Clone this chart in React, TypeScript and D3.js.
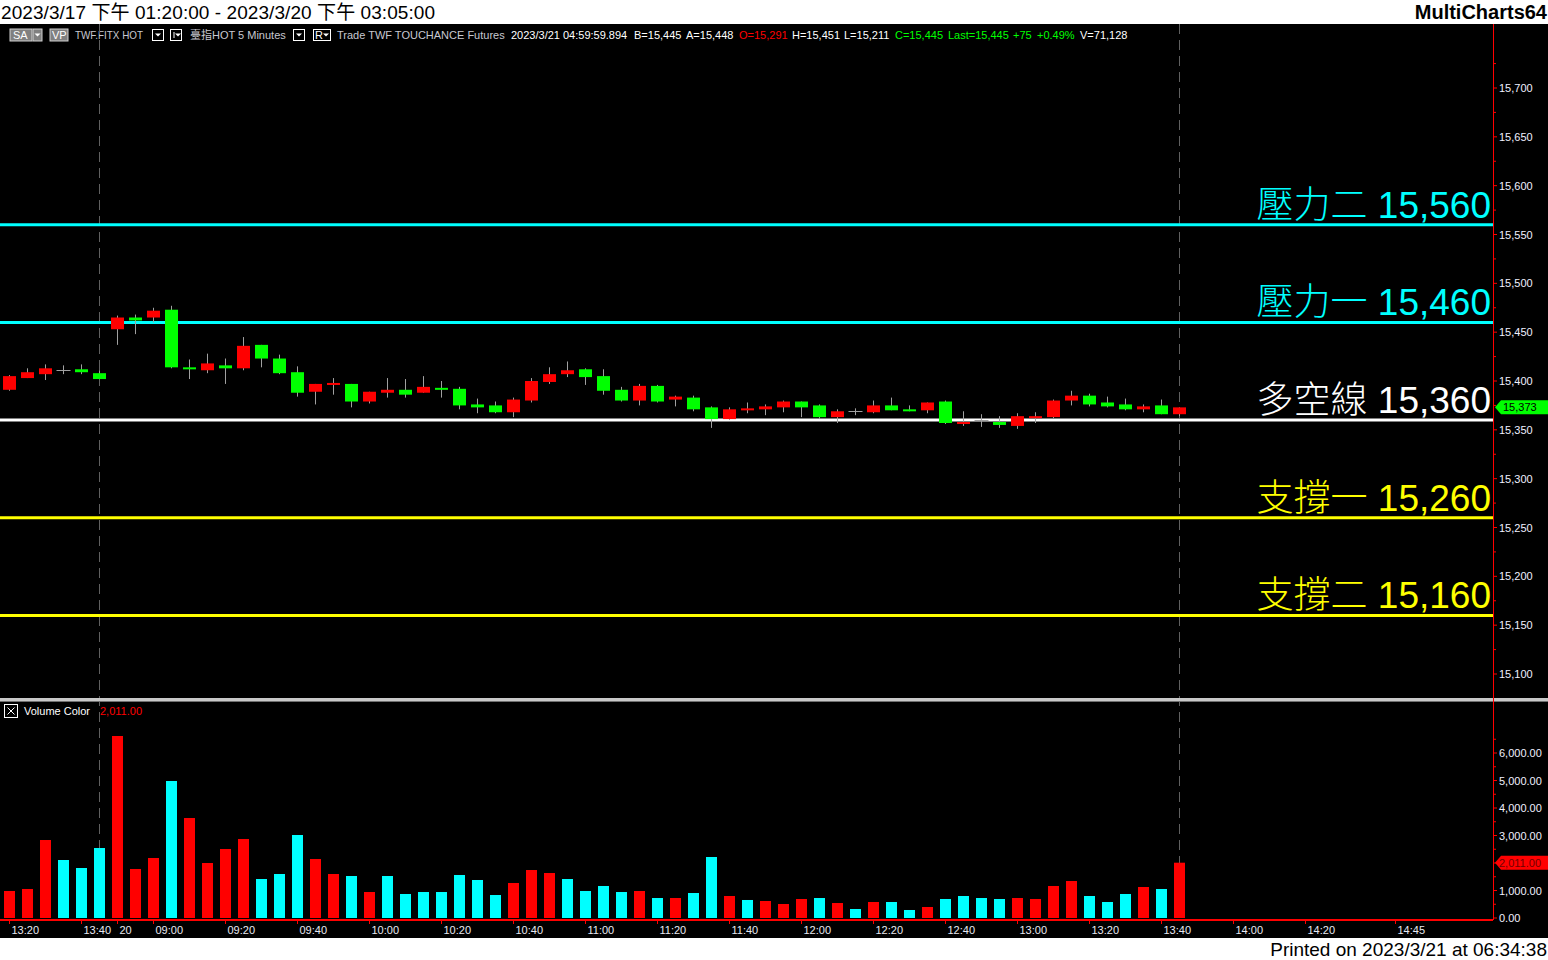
import * as d3 from "d3";

// 5-minute bars, 3/17 night end + 3/20 day session
const times = [
  "13:20", "13:25", "13:30", "13:35", "13:40", "13:45",
  "08:50", "08:55", "09:00", "09:05", "09:10", "09:15", "09:20", "09:25", "09:30", "09:35",
  "09:40", "09:45", "09:50", "09:55", "10:00", "10:05", "10:10", "10:15", "10:20", "10:25",
  "10:30", "10:35", "10:40", "10:45", "10:50", "10:55", "11:00", "11:05", "11:10", "11:15",
  "11:20", "11:25", "11:30", "11:35", "11:40", "11:45", "11:50", "11:55", "12:00", "12:05",
  "12:10", "12:15", "12:20", "12:25", "12:30", "12:35", "12:40", "12:45", "12:50", "12:55",
  "13:00", "13:05", "13:10", "13:15", "13:20", "13:25", "13:30", "13:35", "13:40", "13:45",
];

const open = [
  15391, 15403, 15407, 15411, 15412, 15408, 15453, 15465, 15465, 15473,
  15414, 15411, 15416, 15413, 15437, 15423, 15409, 15389, 15396, 15397,
  15379, 15388, 15391, 15388, 15393, 15392, 15376, 15375, 15368, 15380,
  15399, 15407, 15412, 15405, 15391, 15380, 15395, 15381, 15383, 15373,
  15361, 15370, 15371, 15373, 15379, 15375, 15363, 15369, 15368, 15375,
  15371, 15370, 15379, 15356, 15360, 15358, 15354, 15362, 15363, 15380,
  15385, 15378, 15376, 15371, 15375, 15366,
];
const high = [
  15406, 15413, 15417, 15416, 15417, 15411, 15467, 15468, 15475, 15477,
  15422, 15428, 15423, 15445, 15437, 15427, 15415, 15397, 15403, 15397,
  15389, 15403, 15402, 15405, 15400, 15394, 15382, 15379, 15383, 15403,
  15414, 15420, 15413, 15412, 15394, 15397, 15396, 15385, 15385, 15374,
  15373, 15378, 15376, 15380, 15379, 15376, 15371, 15372, 15380, 15383,
  15375, 15378, 15380, 15369, 15366, 15364, 15367, 15368, 15381, 15390,
  15387, 15384, 15382, 15376, 15381, 15373,
];
const low = [
  15390, 15403, 15401, 15407, 15407, 15402, 15437, 15448, 15460, 15413,
  15402, 15408, 15397, 15411, 15414, 15407, 15384, 15376, 15386, 15373,
  15377, 15383, 15383, 15388, 15383, 15371, 15367, 15367, 15363, 15378,
  15397, 15404, 15396, 15386, 15379, 15375, 15378, 15374, 15369, 15352,
  15360, 15367, 15365, 15368, 15363, 15361, 15357, 15365, 15367, 15370,
  15369, 15367, 15356, 15354, 15353, 15352, 15351, 15357, 15362, 15375,
  15374, 15373, 15370, 15368, 15366, 15364,
];
const close = [
  15405, 15409, 15413, 15411, 15409, 15402, 15465, 15462, 15472, 15414,
  15413, 15418, 15413, 15436, 15423, 15408, 15388, 15397, 15398, 15379,
  15389, 15391, 15386, 15394, 15391, 15375, 15373, 15368, 15381, 15400,
  15407, 15411, 15404, 15390, 15380, 15395, 15379, 15384, 15371, 15361,
  15371, 15372, 15374, 15379, 15373, 15363, 15369, 15369, 15375, 15370,
  15370, 15378, 15357, 15358, 15360, 15355, 15364, 15364, 15380, 15385,
  15376, 15374, 15371, 15374, 15366, 15373,
];

const volume = [
  982, 1055, 2836, 2109, 1818, 2545, 6618, 1782, 2182, 4982,
  3636, 2000, 2509, 2873, 1418, 1600, 3018, 2145, 1600, 1527,
  945, 1527, 873, 945, 945, 1564, 1382, 836, 1273, 1745,
  1636, 1418, 982, 1164, 945, 982, 727, 727, 909, 2218,
  800, 655, 618, 509, 691, 727, 545, 327, 582, 582,
  291, 400, 691, 800, 727, 691, 727, 691, 1164, 1345,
  800, 582, 873, 1127, 1055, 2011,
];
// 1 = up volume (red), -1 = down volume (cyan)
const volumeDir = [
  1, 1, 1, -1, -1, -1, 1, 1, 1, -1,
  1, 1, 1, 1, -1, -1, -1, 1, 1, -1,
  1, -1, -1, -1, -1, -1, -1, -1, 1, 1,
  1, -1, -1, -1, -1, 1, -1, 1, -1, -1,
  1, -1, 1, 1, 1, -1, 1, -1, 1, -1,
  -1, 1, -1, -1, -1, -1, 1, 1, 1, 1,
  -1, -1, -1, 1, -1, 1,
];

const levelNames = ["壓力二", "壓力一", "多空線", "支撐一", "支撐二"];
const levelValues = [15560, 15460, 15360, 15260, 15160];

const priceTicks = [15100, 15150, 15200, 15250, 15300, 15350, 15400, 15450, 15500, 15550, 15600, 15650, 15700];
const volumeTicks = [0, 1000, 2000, 3000, 4000, 5000, 6000];
const volumeLabels = ["0.00", "1,000.00", "", "3,000.00", "4,000.00", "5,000.00", "6,000.00"];

const axisBars = [0, 4, 6, 8, 12, 16, 20, 24, 28, 32, 36, 40, 44, 48, 52, 56, 60, 64, 68, 72, 77];
const axisLabels = [
  "13:20", "13:40", "20", "09:00", "09:20", "09:40", "10:00", "10:20", "10:40", "11:00",
  "11:20", "11:40", "12:00", "12:20", "12:40", "13:00", "13:20", "13:40", "14:00", "14:20", "14:45",
];
const sessionEnds = [5, 65];

const W = 1548;
const H = 960;
const AXIS_X = 1493;
const FONT = "'Liberation Sans', Arial, 'Noto Sans CJK TC', sans-serif";

const levelColor = (i: number) => (i < 2 ? "#00ffff" : i === 2 ? "#ffffff" : "#ffff00");

function Arrow({ x, y }: { x: number; y: number }) {
  return <path d={`M${x - 3},${y - 1.5}L${x + 3},${y - 1.5}L${x},${y + 1.5}Z`} fill="#ffffff" />;
}

export default function App() {
  const x = d3.scaleLinear().domain([0, times.length - 1]).range([9.5, 1179.5]);
  const y = d3.scaleLinear().domain([15100, 15700]).range([674, 88]);
  const yv = d3.scaleLinear().domain([0, 6000]).range([918, 753]);

  const last = close.length - 1;
  const lastPrice = close[last];
  const lastVol = volume[last];
  const fmt = d3.format(",");
  const fmtV = d3.format(",.2f");

  return (
    <svg
      width={W}
      height={H}
      style={{ position: "absolute", left: 0, top: 0, display: "block" }}
      fontFamily={FONT}
    >
      <rect x={0} y={0} width={W} height={H} fill="#ffffff" />
      <rect x={0} y={24} width={W} height={914} fill="#000000" />

      {/* title strip */}
      <text x={1} y={19} fontSize={19} fill="#000" textLength={434}>
        2023/3/17 下午 01:20:00 - 2023/3/20 下午 03:05:00
      </text>
      <text x={W - 1} y={19} fontSize={20} fontWeight="bold" textAnchor="end" fill="#000">
        MultiCharts64
      </text>

      {/* info bar */}
      <g fontSize={11} dominantBaseline="central">
        <rect x={10} y={29} width={22} height={12} fill="#808080" stroke="#d0d0d0" />
        <text x={13} y={35} fill="#fff">SA</text>
        <rect x={33} y={29} width={9} height={12} fill="#808080" stroke="#d0d0d0" />
        <Arrow x={37.5} y={35} />
        <rect x={50} y={29} width={18} height={12} fill="#808080" stroke="#d0d0d0" />
        <text x={52} y={35} fill="#fff">VP</text>
        <text x={75} y={35} fill="#c8c8d0" textLength={68} lengthAdjust="spacingAndGlyphs">
          TWF.FITX HOT
        </text>
        <rect x={152.5} y={29.5} width={11} height={11} fill="none" stroke="#fff" />
        <Arrow x={158} y={35} />
        <rect x={170.5} y={29.5} width={11} height={11} fill="none" stroke="#fff" />
        <line x1={174} x2={174} y1={32} y2={38} stroke="#fff" />
        <Arrow x={178} y={35} />
        <text x={190} y={35} fill="#c8c8d0">臺指HOT  5 Minutes</text>
        <rect x={293.5} y={29.5} width={11} height={11} fill="none" stroke="#fff" />
        <Arrow x={299} y={35} />
        <rect x={313.5} y={29.5} width={17} height={11} fill="none" stroke="#fff" />
        <text x={315} y={35} fill="#fff">R</text>
        <Arrow x={326} y={35} />
        <text x={337} y={35} fill="#c8c8d0">Trade  TWF  TOUCHANCE  Futures</text>
        <text x={511} y={35} fill="#fff">2023/3/21  04:59:59.894</text>
        <text x={634} y={35} fill="#fff">B=15,445</text>
        <text x={686} y={35} fill="#fff">A=15,448</text>
        <text x={739} y={35} fill="#ff0000">O=15,291</text>
        <text x={792} y={35} fill="#fff">H=15,451</text>
        <text x={844} y={35} fill="#fff">L=15,211</text>
        <text x={895} y={35} fill="#00ff00">C=15,445</text>
        <text x={948} y={35} fill="#00ff00">Last=15,445</text>
        <text x={1013} y={35} fill="#00ff00">+75</text>
        <text x={1037} y={35} fill="#00ff00">+0.49%</text>
        <text x={1080} y={35} fill="#fff">V=71,128</text>
      </g>

      {/* session separators */}
      {sessionEnds.map((i) => (
        <line
          key={i}
          x1={x(i)}
          x2={x(i)}
          y1={24}
          y2={920}
          stroke="#606060"
          strokeDasharray="10,6"
        />
      ))}

      {/* support / resistance levels */}
      {levelValues.map((v, i) => (
        <g key={v}>
          <line x1={0} x2={AXIS_X} y1={y(v)} y2={y(v)} stroke={levelColor(i)} strokeWidth={3} />
          <text
            x={AXIS_X - 2}
            y={y(v) - 7}
            fontSize={37}
            textAnchor="end"
            fill={levelColor(i)}
            fontWeight={300}
          >
            {levelNames[i]} {fmt(v)}
          </text>
        </g>
      ))}

      {/* candles */}
      {times.map((t, i) => {
        const cx = x(i);
        const o = open[i];
        const c = close[i];
        const yo = y(o);
        const yc = y(c);
        return (
          <g key={i}>
            <line x1={cx} x2={cx} y1={y(high[i])} y2={y(low[i])} stroke="#a0a0a0" />
            {o === c ? (
              <line x1={cx - 7} x2={cx + 7} y1={Math.round(yo) + 0.5} y2={Math.round(yo) + 0.5} stroke="#a0a0a0" />
            ) : (
              <rect
                x={cx - 6.5}
                y={Math.min(yo, yc)}
                width={13}
                height={Math.max(Math.abs(yo - yc), 2)}
                fill={c > o ? "#ff0000" : "#00ff00"}
              />
            )}
          </g>
        );
      })}

      {/* pane separator */}
      <rect x={0} y={698} width={W} height={3} fill="#c8c8c8" />
      <line x1={0} x2={W} y1={701.5} y2={701.5} stroke="#707070" />

      {/* volume pane header */}
      <rect x={4.5} y={704.5} width={13} height={13} fill="none" stroke="#fff" />
      <path d="M7.5,707.5L14.5,714.5M14.5,707.5L7.5,714.5" stroke="#fff" />
      <text x={24} y={711} fontSize={11} fill="#fff" dominantBaseline="central">Volume Color</text>
      <text x={100} y={711} fontSize={11} fill="#ff0000" dominantBaseline="central">
        {fmtV(lastVol)}
      </text>

      {/* volume bars */}
      {volume.map((v, i) => (
        <rect
          key={i}
          x={x(i) - 5.5}
          y={yv(v)}
          width={11}
          height={yv(0) - yv(v)}
          fill={volumeDir[i] > 0 ? "#ff0000" : "#00ffff"}
        />
      ))}

      {/* right axis */}
      <line x1={AXIS_X + 0.5} x2={AXIS_X + 0.5} y1={24} y2={920} stroke="#ff0000" />
      {priceTicks.map((p) => (
        <g key={p}>
          <line x1={AXIS_X} x2={AXIS_X + 4} y1={y(p)} y2={y(p)} stroke="#ff0000" />
          <line x1={AXIS_X} x2={AXIS_X + 3} y1={y(p + 25)} y2={y(p + 25)} stroke="#ff0000" />
          <text x={AXIS_X + 6} y={y(p)} fontSize={11} fill="#f0f0ff" dominantBaseline="central">
            {fmt(p)}
          </text>
        </g>
      ))}
      {volumeTicks.map((v, i) => (
        <g key={v}>
          <line x1={AXIS_X} x2={AXIS_X + 4} y1={yv(v)} y2={yv(v)} stroke="#ff0000" />
          <line x1={AXIS_X} x2={AXIS_X + 3} y1={yv(v + 500)} y2={yv(v + 500)} stroke="#ff0000" />
          <text x={AXIS_X + 6} y={yv(v)} fontSize={11} fill="#f0f0ff" dominantBaseline="central">
            {volumeLabels[i]}
          </text>
        </g>
      ))}

      {/* last price / last volume tags */}
      <path
        d={`M${AXIS_X + 2},${y(lastPrice)}L${AXIS_X + 8},${y(lastPrice) - 7}H${W}V${y(lastPrice) + 7}H${AXIS_X + 8}Z`}
        fill="#00ff00"
      />
      <text x={AXIS_X + 10} y={y(lastPrice)} fontSize={11} fill="#000" dominantBaseline="central">
        {fmt(lastPrice)}
      </text>
      <path
        d={`M${AXIS_X + 2},${yv(lastVol)}L${AXIS_X + 8},${yv(lastVol) - 7}H${W}V${yv(lastVol) + 7}H${AXIS_X + 8}Z`}
        fill="#ff0000"
      />
      <text x={AXIS_X + 6} y={yv(lastVol)} fontSize={11} fill="#700000" dominantBaseline="central">
        {fmtV(lastVol)}
      </text>

      {/* time axis */}
      <line x1={0} x2={AXIS_X} y1={920} y2={920} stroke="#ff0000" strokeWidth={2} />
      {axisBars.map((b, i) => (
        <g key={i}>
          <line x1={x(b)} x2={x(b)} y1={920} y2={924} stroke="#ff0000" />
          <text x={x(b) + 2} y={930} fontSize={11} fill="#e8e8f0" dominantBaseline="central">
            {axisLabels[i]}
          </text>
        </g>
      ))}

      <text x={W - 1} y={956} fontSize={19} textAnchor="end" fill="#000">
        Printed on 2023/3/21 at 06:34:38
      </text>
    </svg>
  );
}
